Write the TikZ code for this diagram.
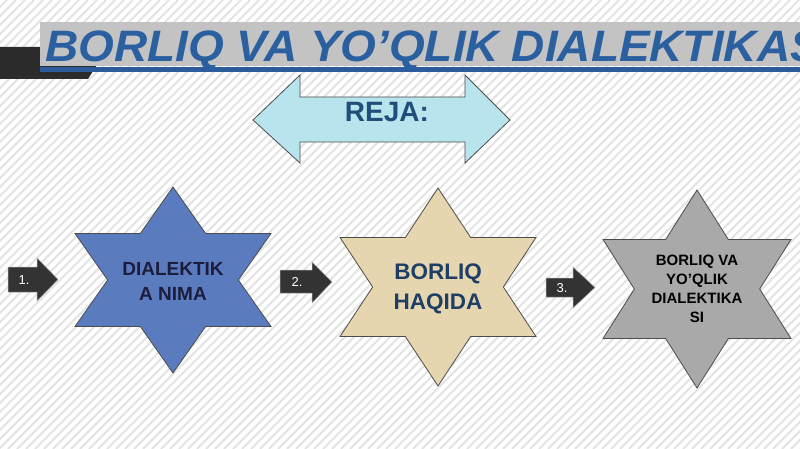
\documentclass[tikz,border=0pt]{standalone}
\usepackage{fontspec}
\setmainfont{Liberation Sans}
\definecolor{titleblue}{HTML}{2A5FA0}
\definecolor{barblue}{HTML}{2C5C9C}
\definecolor{bargray}{HTML}{C3C3C3}
\definecolor{darkband}{HTML}{2B2B2B}
\definecolor{hatchgray}{HTML}{E4E4E4}
\definecolor{arrowcyan}{HTML}{B8E4EE}
\definecolor{rejablue}{HTML}{1F4E7A}
\definecolor{starblue}{HTML}{5A7CBE}
\definecolor{starbeige}{HTML}{E6D6B0}
\definecolor{stargray}{HTML}{A9A9A9}
\definecolor{navytext}{HTML}{1C1C3C}
\definecolor{beigetext}{HTML}{1F3E66}
\definecolor{smallarrow}{HTML}{333333}
\newcommand{\hexstar}[5]{%
  \begin{scope}[shift={(#1,#2)}]
    \draw[#5] (0,-#4) -- (#3/3,-#4/2) -- (#3,-#4/2) -- (2*#3/3,0) -- (#3,#4/2) -- (#3/3,#4/2)
      -- (0,#4) -- (-#3/3,#4/2) -- (-#3,#4/2) -- (-2*#3/3,0) -- (-#3,-#4/2) -- (-#3/3,-#4/2) -- cycle;
  \end{scope}}
\tikzset{
  hatch/.style={draw=hatchgray, line width=2pt},
  starline/.style={draw=black!70, line width=0.8pt},
  smallarr/.style={fill=smallarrow, draw=gray!70, line width=0.5pt},
  numlabel/.style={text=white, font=\fontsize{13}{13}\selectfont, inner sep=0pt},
}
\begin{document}
\begin{tikzpicture}[x=1pt,y=-1pt]
\useasboundingbox (0,0) rectangle (800,449);
\begin{scope}
\clip (0,0) rectangle (800,449);
\fill[white] (0,0) rectangle (800,449);
\foreach \k in {-460,-451,...,800} \draw[hatch] (\k,449) -- (\k+449,0);
% title band
\fill[darkband] (0,47) -- (108,47) -- (88,79) -- (0,79) -- cycle;
\fill[bargray] (40,22) rectangle (800,66);
\fill[barblue] (40,67) rectangle (800,72);
\node[anchor=base west, inner sep=0pt, text=titleblue, font=\fontsize{44}{44}\selectfont\bfseries\itshape] (title) at (45,62) {\scalebox{1.045}[1]{BORLIQ VA YO’QLIK DIALEKTIKAS}};
% double arrow
\draw[starline, fill=arrowcyan] (253,120) -- (300,75) -- (300,97) -- (465,97) -- (465,75) -- (510,120)
  -- (465,163) -- (465,142) -- (300,142) -- (300,163) -- cycle;
\node[text=rejablue, font=\fontsize{28}{28}\selectfont\bfseries] (reja) at (387,112) {REJA:};
% stars
\hexstar{173}{280}{98}{93}{starline, fill=starblue}
\node[align=center, text=navytext, font=\fontsize{19}{25}\selectfont\bfseries] (s1) at (173,281) {DIALEKTIK\\A NIMA};
\hexstar{438}{287}{98}{99}{starline, fill=starbeige}
\node[align=center, text=beigetext, font=\fontsize{22.5}{30}\selectfont\bfseries] (s2) at (438,289) {BORLIQ\\HAQIDA};
\hexstar{697}{289}{94}{99}{starline, fill=stargray}
\node[align=center, text=black, font=\fontsize{15}{19}\selectfont\bfseries] (s3) at (697,289) {BORLIQ VA\\YO’QLIK\\DIALEKTIKA\\SI};
% small arrows
\draw[smallarr] (8,267) -- (37,267) -- (37,258) -- (58,279.5) -- (37,301) -- (37,292) -- (8,292) -- cycle;
\node[numlabel] (n1) at (24,280) {1.};
\draw[smallarr] (280,270) -- (312,270) -- (312,262) -- (332,282) -- (312,303) -- (312,293) -- (280,293) -- cycle;
\node[numlabel] (n2) at (297,282) {2.};
\draw[smallarr] (546,278) -- (573,278) -- (573,267) -- (595,287.5) -- (573,308) -- (573,297) -- (546,297) -- cycle;
\node[numlabel] (n3) at (562,288) {3.};
\end{scope}
\end{tikzpicture}
\end{document}
